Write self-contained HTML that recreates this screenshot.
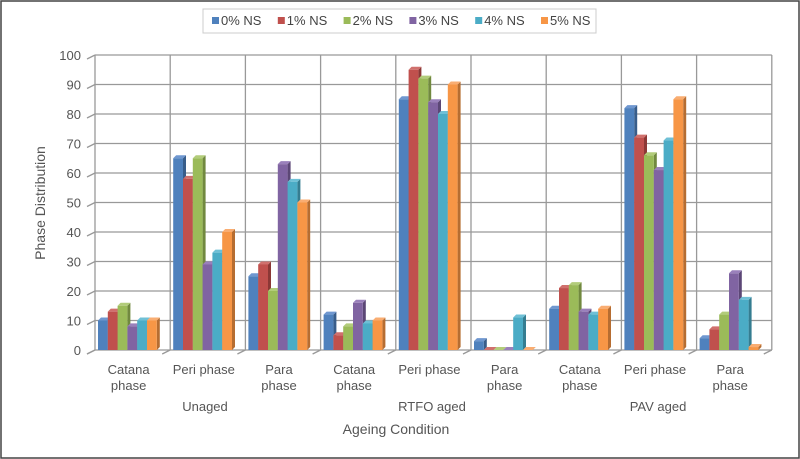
<!DOCTYPE html><html><head><meta charset="utf-8"><style>body{margin:0;background:#fff}svg{display:block;font-family:"Liberation Sans",sans-serif}</style></head><body>
<svg id="s" width="800" height="459" viewBox="0 0 800 459">
<rect x="0" y="0" width="800" height="459" fill="#fff"/>
<rect x="1" y="1" width="798" height="457" fill="none" stroke="#444" stroke-width="1.5"/>
<rect x="203" y="9" width="393" height="24" fill="#fff" stroke="#ccc"/>
<g id="g"></g>
</svg>
<script>
const g=document.getElementById('g');let h='';
const y0=350,k=2.95,L=95,W=75.2;
for(let i=0;i<=10;i++){const y=y0-i*10*k;h+=`<line x1="${L}" y1="${y}" x2="${L+9*W}" y2="${y}" stroke="#999" stroke-width="1.3"/><line x1="${L-8}" y1="${y+4}" x2="${L}" y2="${y}" stroke="#999" stroke-width="1.3"/><text x="${L-14}" y="${y+5}" font-size="13" fill="#555" text-anchor="end">${i*10}</text>`;}
for(let c=0;c<=9;c++){const x=L+c*W;h+=`<line x1="${x}" y1="${y0-100*k}" x2="${x}" y2="${y0}" stroke="#999" stroke-width="1.3"/><line x1="${x-8}" y1="${y0+4}" x2="${x}" y2="${y0}" stroke="#999" stroke-width="1.3"/>`;}
const col=['#4F81BD','#C0504D','#9BBB59','#8064A2','#4BACC6','#F79646'];
const dk=['#385D8A','#8C3836','#71893F','#5C4776','#357D91','#B66D31'];
const lt=['#6f97d0','#d0706d','#b2cc7a','#9a80bb','#6fc0d6','#f9ad72'];
const d=[[10,13,15,8,10,10],[65,58,65,29,33,40],[25,29,20,63,57,50],[12,5,8,16,9,10],[85,95,92,84,80,90],[3,0,0,0,11,0],[14,21,22,13,12,14],[82,72,66,61,71,85],[4,7,12,26,17,1]];
const bw=9.8,dp=3;
d.forEach((r,c)=>r.forEach((v,s)=>{const x=L+c*W+3+s*bw,y=y0-v*k,hh=v*k;
h+=`<polygon points="${x+bw},${y} ${x+bw+dp},${y-dp} ${x+bw+dp},${y0-dp} ${x+bw},${y0}" fill="${dk[s]}"/>`;
h+=`<polygon points="${x},${y} ${x+dp},${y-dp} ${x+bw+dp},${y-dp} ${x+bw},${y}" fill="${lt[s]}"/>`;
h+=`<rect x="${x}" y="${y}" width="${bw}" height="${hh}" fill="${col[s]}"/>`;}));
const cl=[['Catana','phase'],['Peri phase'],['Para','phase']];
for(let c=0;c<9;c++){const t=cl[c%3],cx=L+c*W+W/2-4;
if(t.length==1)h+=`<text x="${cx}" y="374" font-size="13" fill="#555" text-anchor="middle">${t[0]}</text>`;
else h+=`<text x="${cx}" y="374" font-size="13" fill="#555" text-anchor="middle">${t[0]}</text><text x="${cx}" y="390" font-size="13" fill="#555" text-anchor="middle">${t[1]}</text>`;}
[['Unaged',205],['RTFO aged',432],['PAV aged',658]].forEach(a=>h+=`<text x="${a[1]}" y="411" font-size="13" fill="#555" text-anchor="middle">${a[0]}</text>`);
h+=`<text x="396" y="434" font-size="14" fill="#555" text-anchor="middle">Ageing Condition</text>`;
h+=`<text transform="translate(45,203) rotate(-90)" font-size="14" fill="#555" text-anchor="middle">Phase Distribution</text>`;
['0% NS','1% NS','2% NS','3% NS','4% NS','5% NS'].forEach((n,i)=>{const x=212+i*65.8;h+=`<rect x="${x}" y="17" width="7" height="7" fill="${col[i]}"/><text x="${x+9}" y="25" font-size="13" fill="#444">${n}</text>`;});
g.innerHTML=h;
</script>
</body></html>
